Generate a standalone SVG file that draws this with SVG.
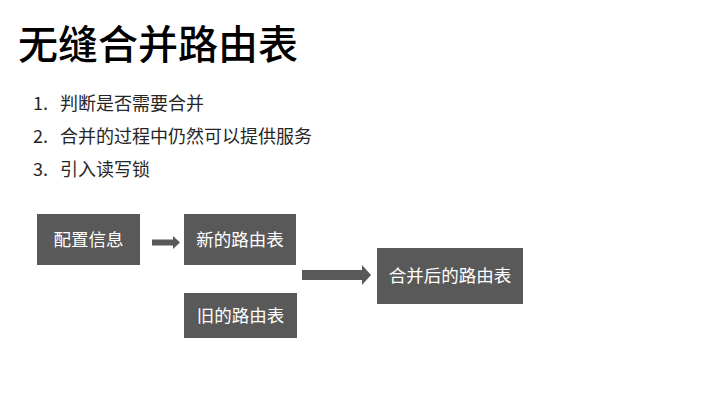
<svg xmlns="http://www.w3.org/2000/svg" width="720" height="405" viewBox="0 0 720 405">
<style>
.t{font-family:"Noto Sans CJK SC","Microsoft YaHei",sans-serif}
.box{fill:#595959}
.bt{font-family:"Noto Sans CJK SC",sans-serif;font-size:17.5px;fill:#ffffff;text-anchor:middle}
.li{font-family:"Noto Sans CJK SC",sans-serif;font-size:18px;fill:#262626}
.arr{fill:#595959}
</style>
<rect width="720" height="405" fill="#ffffff"/>
<text x="18" y="59" class="t" font-size="40" font-weight="500" fill="#000000">无缝合并路由表</text>
<g id="list">
<text x="33" y="110" class="li">1.</text><text x="60" y="110" class="li">判断是否需要合并</text>
<text x="33" y="143" class="li">2.</text><text x="60" y="143" class="li">合并的过程中仍然可以提供服务</text>
<text x="33" y="176" class="li">3.</text><text x="60" y="176" class="li">引入读写锁</text>
</g>
<g id="config"><rect class="box" x="37" y="214" width="103" height="51"/><text class="bt" x="88.5" y="246">配置信息</text></g>
<g id="new"><rect class="box" x="184" y="214" width="112" height="51"/><text class="bt" x="240" y="246">新的路由表</text></g>
<g id="old"><rect class="box" x="184" y="293" width="113" height="45"/><text class="bt" x="240.5" y="322">旧的路由表</text></g>
<g id="merged"><rect class="box" x="377" y="248" width="146" height="56"/><text class="bt" x="450" y="282">合并后的路由表</text></g>
<g id="connectors">
<polygon class="arr" points="152,239.5 173,239.5 173,236 180,242.5 173,249 173,245.5 152,245.5"/>
<polygon class="arr" points="302,270 362,270 362,265 371,275 362,285 362,280 302,280"/>
</g>
</svg>
